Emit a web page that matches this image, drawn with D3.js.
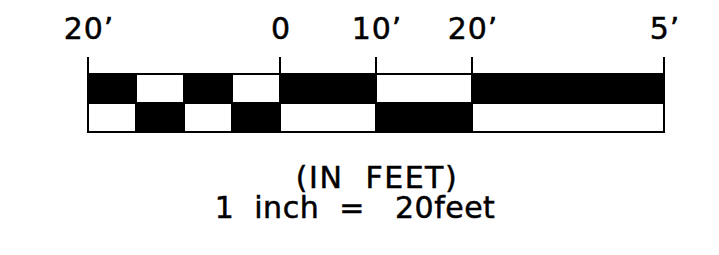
<!DOCTYPE html>
<html><head><meta charset="utf-8">
<script src="https://cdn.jsdelivr.net/npm/d3@7"></script>
<style>html,body{margin:0;padding:0;background:#fff;}svg{display:block;}</style>
</head><body>
<svg id="c" width="719" height="255"></svg>
<script>
// Data
const tickValues = [-20, 0, 10, 20, 40];
const tickLabels = ["20’", "0", "10’", "20’", "5’"];
const segmentEdges = [-20, -15, -10, -5, 0, 10, 20, 40];
const topRowFill = ["black", "white", "black", "white", "black", "white", "black"];
const unitLabel = "(IN  FEET)";
const scaleLabel = "1  inch  =   20feet";

const svg = d3.select("#c");
const x = d3.scaleLinear().domain([-20, 40]).range([88, 664]);
const yTop = 74, yMid = 103, yBot = 132, yTick = 57;
const font = "'DejaVu Sans', sans-serif";

const segs = d3.range(segmentEdges.length - 1).map(i => ({a: segmentEdges[i], b: segmentEdges[i+1], fill: topRowFill[i]}));
const inv = f => f === "black" ? "white" : "black";

svg.selectAll("rect.top").data(segs).enter().append("rect")
  .attr("x", d => x(d.a)).attr("width", d => x(d.b) - x(d.a))
  .attr("y", yTop).attr("height", yMid - yTop)
  .attr("fill", d => d.fill).attr("stroke", "black").attr("stroke-width", 2);
svg.selectAll("rect.bot").data(segs).enter().append("rect")
  .attr("x", d => x(d.a)).attr("width", d => x(d.b) - x(d.a))
  .attr("y", yMid).attr("height", yBot - yMid)
  .attr("fill", d => inv(d.fill)).attr("stroke", "black").attr("stroke-width", 2);

svg.selectAll("line.tick").data(tickValues).enter().append("line")
  .attr("x1", d => x(d)).attr("x2", d => x(d))
  .attr("y1", yTick).attr("y2", yBot)
  .attr("stroke", "black").attr("stroke-width", 2);

function styleText(sel, ls) {
  sel.style("font-family", font).style("font-size", "30px")
     .attr("fill", "black").attr("stroke", "black").attr("stroke-width", 0.5)
     .style("letter-spacing", ls + "px");
}

svg.selectAll("text.lab").data(tickValues).enter().append("text")
  .attr("x", d => x(d) + 1).attr("y", 39)
  .attr("text-anchor", "middle")
  .call(styleText, 1)
  .text((d, i) => tickLabels[i]);

svg.append("text").attr("x", 377).attr("y", 188)
  .attr("text-anchor", "middle").attr("xml:space", "preserve")
  .style("white-space", "pre")
  .call(styleText, 1.5)
  .text(unitLabel);
svg.append("text").attr("x", 355).attr("y", 218)
  .attr("text-anchor", "middle").attr("xml:space", "preserve")
  .style("white-space", "pre")
  .call(styleText, 0.5)
  .text(scaleLabel);
</script>
</body></html>
